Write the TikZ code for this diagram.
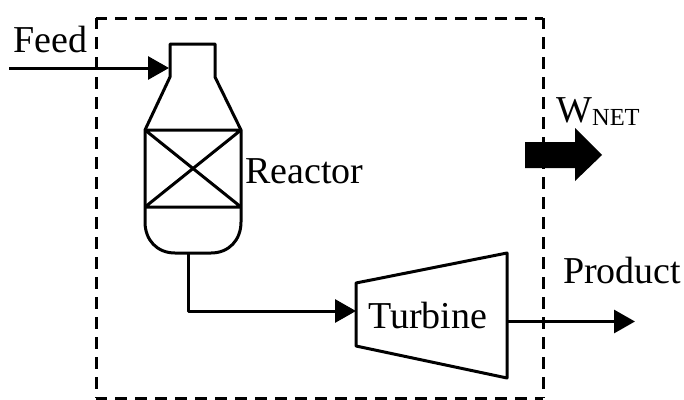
\documentclass[tikz,border=0pt]{standalone}
\usepackage{fontspec}
\setmainfont{Liberation Serif}
\usetikzlibrary{arrows.meta}
\tikzset{
	unitline/.style={black, line width=3pt, line join=round},
	flowline/.style={unitline, -{Triangle[length=21pt, width=23pt]}},
	boundary/.style={black, line width=3pt, dash pattern=on 12pt off 8pt, dash phase=1pt},
	tag/.style={anchor=base west, inner sep=0pt, font=\fontsize{38}{38}\selectfont}
}
\begin{document}
\begin{tikzpicture}[x=1pt, y=-1pt]
	\useasboundingbox (0, 0) rectangle (684, 399);

	\draw[boundary]	(96, 18) to (543, 18)
					(96, 18) to (96, 398)
					(96, 398) to (543, 398)
					(543, 18) to (543, 398);

	\coordinate (feedin) at (9, 68);
	\coordinate (neckin) at (169, 68);
	\coordinate (reactorout) at (188, 253);
	\coordinate (turbinein) at (356, 311);
	\coordinate (turbineout) at (507, 321.5);
	\coordinate (productout) at (635, 321.5);

	\draw[unitline]	(170, 77) to (170, 44) to (215, 44) to (215, 77)
					to (241, 130) to (241, 222)
					.. controls (241, 240) and (229, 253) .. (211, 253)
					to (175, 253)
					.. controls (157, 253) and (145, 240) .. (145, 222)
					to (145, 130) to cycle;
	\draw[unitline]	(145, 130) to (241, 130)
					(145, 207) to (241, 207)
					(145, 130) to (241, 207)
					(145, 207) to (241, 130);

	\draw[unitline]	(356, 283) to (507, 253) to (507, 378) to (356, 346) to cycle;

	\draw[flowline]	(feedin) to (neckin);
	\draw[flowline]	(reactorout) |- (turbinein);
	\draw[flowline]	(turbineout) to (productout);

	\fill[black]	(525, 142) to (575, 142) to (575, 128) to (602, 155)
					to (575, 181) to (575, 168) to (525, 168) to cycle;

	\node[tag] (feedtag) at (13, 52) {Feed};
	\node[tag] (reactortag) at (245, 183) {Reactor};
	\node[tag] (turbinetag) at (368, 328) {Turbine};
	\node[tag] (producttag) at (563, 283) {Product};
	\node[tag] (worktag) at (556, 122) {W\raisebox{-3pt}{\fontsize{24.5}{24.5}\selectfont NET}};
\end{tikzpicture}
\end{document}
